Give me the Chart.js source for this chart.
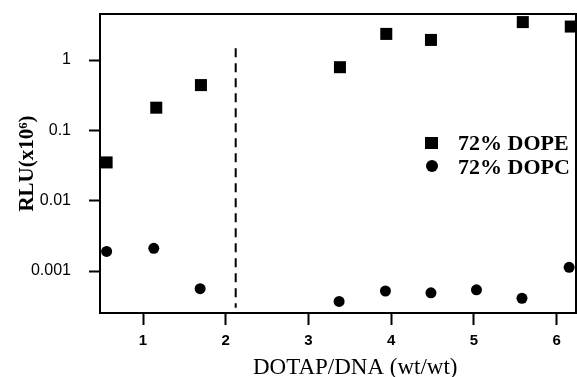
<!DOCTYPE html>
<html>
<head>
<meta charset="utf-8">
<script src="https://cdn.jsdelivr.net/npm/chart.js@4.4.0/dist/chart.umd.min.js"></script>
<style>
html, body { margin: 0; padding: 0; background: #fff; }
#wrap { position: relative; width: 577px; height: 377px; }
#legend { position: absolute; left: 425px; top: 131px; font: bold 22px 'Liberation Serif', 'Times New Roman', serif; color: #000; }
.row { display: flex; align-items: center; height: 23.5px; line-height: 23.5px; white-space: nowrap; }
.mk { width: 13px; height: 12px; background: #000; margin-right: 20px; flex: none; }
.mk.circle { width: 12px; height: 12px; border-radius: 50%; margin-left: 0.5px; margin-right: 20.5px; }
</style>
</head>
<body>
<div id="wrap">
  <canvas id="chart" width="577" height="377"></canvas>
  <div id="legend"></div>
</div>
<script>
// values
const dopeX = [0.56, 1.16, 1.70, 3.38, 3.94, 4.48, 5.59, 6.17];
const dopeY = [0.035, 0.21, 0.44, 0.79, 2.35, 1.93, 3.46, 2.99];
const dopcX = [0.56, 1.13, 1.69, 3.37, 3.93, 4.48, 5.03, 5.58, 6.15];
const dopcY = [0.0019, 0.0021, 0.00056, 0.00037, 0.00052, 0.00049, 0.00054, 0.00041, 0.00113];

// dashed divider
const dividerX = [2.12, 2.12];
const dividerY = [1.47, 0.0003];

const xTickVals = [1, 2, 3, 4, 5, 6];
const yTickVals = [0.001, 0.01, 0.1, 1];
const yTickLabels = ['0.001', '0.01', '0.1', '1'];

const seriesLabels = ['72% DOPE', '72% DOPC'];

const toPoints = (xs, ys) => xs.map((x, i) => ({ x, y: ys[i] }));

const serif = "'Liberation Serif', 'Times New Roman', serif";
const sans = "'Liberation Sans', Arial, sans-serif";

// box round the plot
const frame = {
    id: 'frame',
    afterDraw(chart) {
        const { ctx, chartArea: a } = chart;
        ctx.save();
        ctx.strokeStyle = '#000';
        ctx.lineWidth = 2;
        ctx.strokeRect(a.left, a.top, a.right - a.left, a.bottom - a.top);
        ctx.restore();
    }
};

const chart = new Chart(document.getElementById('chart'), {
    type: 'scatter',
    data: {
        datasets: [
            {
                label: seriesLabels[0],
                data: toPoints(dopeX, dopeY),
                pointStyle: 'rect',
                pointRadius: 8.5,
                pointHoverRadius: 8.5,
                backgroundColor: '#000',
                borderColor: '#000',
                borderWidth: 0,
            },
            {
                label: seriesLabels[1],
                data: toPoints(dopcX, dopcY),
                pointStyle: 'circle',
                pointRadius: 5.5,
                pointHoverRadius: 5.5,
                backgroundColor: '#000',
                borderColor: '#000',
                borderWidth: 0,
            },
            {
                label: 'divider',
                data: toPoints(dividerX, dividerY),
                showLine: true,
                borderColor: '#000',
                borderWidth: 2,
                borderDash: [9, 6],
                pointRadius: 0,
                pointHoverRadius: 0,
            },
        ]
    },
    options: {
        responsive: false,
        animation: false,
        layout: { autoPadding: false, padding: { top: 14, right: 1, left: 0, bottom: 0 } },
        plugins: {
            legend: { display: false },
            tooltip: { enabled: false },
        },
        scales: {
            x: {
                type: 'linear',
                min: 0.48,
                max: 6.233,
                afterBuildTicks: s => { s.ticks = xTickVals.map(v => ({ value: v })); },
                afterFit: s => { s.height = 64; s.paddingLeft = 0; s.paddingRight = 0; },
                grid: { drawOnChartArea: false, drawTicks: true, tickLength: 12, tickWidth: 2, tickColor: '#000' },
                border: { display: true, color: '#000', width: 2 },
                ticks: {
                    color: '#000',
                    padding: 7,
                    maxRotation: 0,
                    autoSkip: false,
                    font: { family: sans, size: 15, weight: 'bold' },
                },
                title: {
                    display: true,
                    text: '\u00a0\u00a0\u00a0\u00a0\u00a0\u00a0DOTAP/DNA (wt/wt)',
                    color: '#000',
                    font: { family: serif, size: 23, lineHeight: 1 },
                    padding: { top: 0, bottom: -2 },
                },
            },
            y: {
                type: 'logarithmic',
                min: 0.000253,
                max: 4.51,
                afterBuildTicks: s => { s.ticks = yTickVals.map(v => ({ value: v })); },
                afterFit: s => { s.width = 100; s.paddingTop = 0; s.paddingBottom = 0; },
                grid: { drawOnChartArea: false, drawTicks: true, tickLength: 11, tickWidth: 2, tickColor: '#000' },
                border: { display: true, color: '#000', width: 2 },
                ticks: {
                    color: '#000',
                    padding: 18,
                    autoSkip: false,
                    font: { family: sans, size: 16 },
                    callback: v => yTickLabels[yTickVals.indexOf(v)],
                },
                title: {
                    display: true,
                    text: 'RLU(x10\u2076)',
                    color: '#000',
                    font: { family: serif, size: 21, weight: 'bold', lineHeight: 1 },
                    padding: { top: 17.5, bottom: 0 },
                },
            },
        },
    },
    plugins: [frame],
});

// legend inside the plot
const legendEl = document.getElementById('legend');
chart.data.datasets.slice(0, 2).forEach(ds => {
    const row = document.createElement('div');
    row.className = 'row';
    const mk = document.createElement('span');
    mk.className = ds.pointStyle === 'circle' ? 'mk circle' : 'mk';
    const txt = document.createElement('span');
    txt.textContent = ds.label;
    row.appendChild(mk);
    row.appendChild(txt);
    legendEl.appendChild(row);
});
</script>
</body>
</html>
